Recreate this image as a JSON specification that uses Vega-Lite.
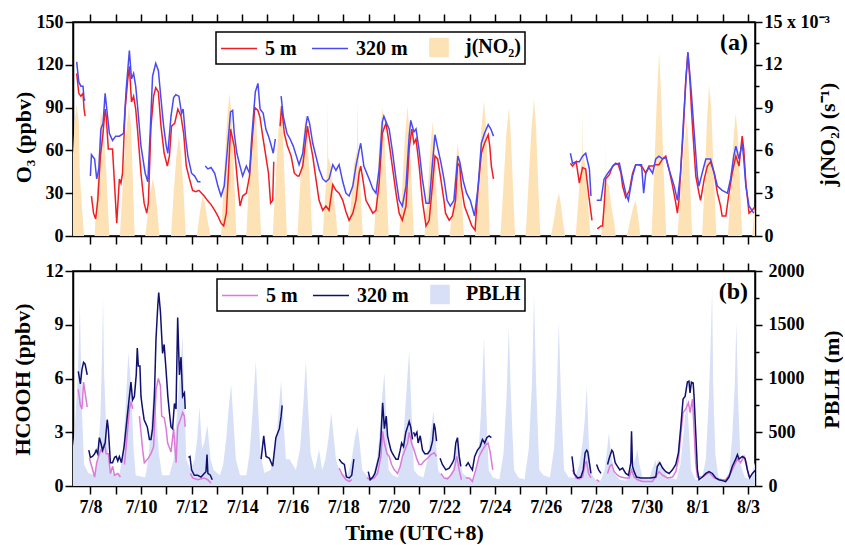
{
"$schema": "https://vega.github.io/schema/vega-lite/v6.json",
"background": "white",
"padding": {"left": 10, "top": 12, "right": 0, "bottom": 0},
"spacing": 15,
"config": {
  "font": "Liberation Serif",
  "view": {"stroke": "black", "strokeWidth": 1.5},
  "axis": {"domainColor": "black", "domainWidth": 1.5, "tickColor": "black", "tickWidth": 1.5, "labelFontWeight": "bold", "labelFontSize": 18, "labelColor": "black", "titleFontWeight": "bold", "titleFontSize": 22, "titleColor": "black", "grid": false, "labelFlush": false, "labelOverlap": false},
  "legend": {"labelFontSize": 20, "labelFontWeight": "bold", "labelColor": "black", "strokeColor": "black", "padding": 4, "symbolSize": 400, "symbolStrokeWidth": 1.5, "columnPadding": 12, "labelOffset": 15, "symbolOffset": 8, "orient": "none", "direction": "horizontal"}
},
"resolve": {"scale": {"color": "independent"}},
"datasets": {
"jno2": [
{"t":"2019-07-07T05:00","v":0},{"t":"2019-07-07T07:00","v":5.0},{"t":"2019-07-07T09:00","v":8.0},{"t":"2019-07-07T11:00","v":9.2},{"t":"2019-07-07T13:00","v":8.0},{"t":"2019-07-07T14:00","v":4.3},{"t":"2019-07-07T16:00","v":2.0},{"t":"2019-07-07T18:00","v":0},
{"t":"2019-07-08T04:00","v":0},{"t":"2019-07-08T06:30","v":3.5},{"t":"2019-07-08T08:30","v":7.0},{"t":"2019-07-08T10:00","v":8.8},{"t":"2019-07-08T12:30","v":7.5},{"t":"2019-07-08T15:00","v":4.5},{"t":"2019-07-08T18:00","v":0},
{"t":"2019-07-09T04:00","v":0},{"t":"2019-07-09T07:00","v":4.0},{"t":"2019-07-09T09:30","v":7.0},{"t":"2019-07-09T12:30","v":9.0},{"t":"2019-07-09T14:30","v":7.8},{"t":"2019-07-09T16:30","v":3.5},{"t":"2019-07-09T18:00","v":0},
{"t":"2019-07-10T04:00","v":0},{"t":"2019-07-10T07:00","v":1.8},{"t":"2019-07-10T09:30","v":3.3},{"t":"2019-07-10T11:00","v":4.0},{"t":"2019-07-10T13:00","v":3.4},{"t":"2019-07-10T15:30","v":1.8},{"t":"2019-07-10T17:30","v":0},
{"t":"2019-07-11T04:30","v":0},{"t":"2019-07-11T07:00","v":3.0},{"t":"2019-07-11T09:30","v":5.5},{"t":"2019-07-11T12:00","v":7.0},{"t":"2019-07-11T14:00","v":5.8},{"t":"2019-07-11T16:30","v":3.0},{"t":"2019-07-11T18:30","v":0},
{"t":"2019-07-12T05:00","v":0},{"t":"2019-07-12T08:00","v":1.7},{"t":"2019-07-12T10:30","v":2.8},{"t":"2019-07-12T12:30","v":2.3},{"t":"2019-07-12T15:00","v":1.2},{"t":"2019-07-12T18:00","v":0},
{"t":"2019-07-13T04:00","v":0},{"t":"2019-07-13T07:00","v":4.5},{"t":"2019-07-13T09:30","v":8.0},{"t":"2019-07-13T12:00","v":10.0},{"t":"2019-07-13T14:00","v":8.5},{"t":"2019-07-13T16:30","v":4.0},{"t":"2019-07-13T18:30","v":0},
{"t":"2019-07-14T04:00","v":0},{"t":"2019-07-14T06:30","v":4.0},{"t":"2019-07-14T09:00","v":7.5},{"t":"2019-07-14T11:00","v":9.3},{"t":"2019-07-14T13:30","v":8.0},{"t":"2019-07-14T16:00","v":3.5},{"t":"2019-07-14T18:00","v":0},
{"t":"2019-07-15T05:00","v":0},{"t":"2019-07-15T07:30","v":3.5},{"t":"2019-07-15T10:00","v":7.0},{"t":"2019-07-15T12:30","v":9.2},{"t":"2019-07-15T14:30","v":7.5},{"t":"2019-07-15T16:30","v":3.5},{"t":"2019-07-15T18:30","v":0},
{"t":"2019-07-16T04:30","v":0},{"t":"2019-07-16T07:00","v":3.5},{"t":"2019-07-16T09:30","v":6.5},{"t":"2019-07-16T12:00","v":8.5},{"t":"2019-07-16T14:00","v":7.0},{"t":"2019-07-16T16:30","v":3.5},{"t":"2019-07-16T18:30","v":0},
{"t":"2019-07-17T04:30","v":0},{"t":"2019-07-17T07:00","v":3.0},{"t":"2019-07-17T08:45","v":5.0},{"t":"2019-07-17T09:10","v":9.6},{"t":"2019-07-17T09:40","v":5.5},{"t":"2019-07-17T12:00","v":5.0},{"t":"2019-07-17T14:30","v":3.0},{"t":"2019-07-17T17:00","v":1.5},{"t":"2019-07-17T18:30","v":0},
{"t":"2019-07-18T04:30","v":0},{"t":"2019-07-18T07:30","v":2.5},{"t":"2019-07-18T10:00","v":5.0},{"t":"2019-07-18T13:00","v":6.0},{"t":"2019-07-18T13:35","v":9.6},{"t":"2019-07-18T14:10","v":6.0},{"t":"2019-07-18T16:30","v":3.0},{"t":"2019-07-18T18:30","v":0},
{"t":"2019-07-19T05:00","v":0},{"t":"2019-07-19T08:00","v":3.5},{"t":"2019-07-19T10:30","v":7.0},{"t":"2019-07-19T13:15","v":9.0},{"t":"2019-07-19T15:00","v":7.0},{"t":"2019-07-19T17:00","v":3.5},{"t":"2019-07-19T19:00","v":0},
{"t":"2019-07-20T05:00","v":0},{"t":"2019-07-20T08:00","v":3.5},{"t":"2019-07-20T10:30","v":7.0},{"t":"2019-07-20T13:00","v":9.1},{"t":"2019-07-20T15:00","v":7.0},{"t":"2019-07-20T17:00","v":3.5},{"t":"2019-07-20T19:00","v":0},
{"t":"2019-07-21T05:00","v":0},{"t":"2019-07-21T08:00","v":3.0},{"t":"2019-07-21T10:30","v":6.0},{"t":"2019-07-21T12:40","v":8.0},{"t":"2019-07-21T14:30","v":6.5},{"t":"2019-07-21T16:30","v":3.0},{"t":"2019-07-21T18:30","v":0},
{"t":"2019-07-22T05:00","v":0},{"t":"2019-07-22T08:00","v":2.5},{"t":"2019-07-22T10:30","v":5.0},{"t":"2019-07-22T12:30","v":6.5},{"t":"2019-07-22T14:30","v":5.3},{"t":"2019-07-22T16:30","v":2.5},{"t":"2019-07-22T18:30","v":0},
{"t":"2019-07-23T05:00","v":0},{"t":"2019-07-23T08:00","v":3.5},{"t":"2019-07-23T11:00","v":7.5},{"t":"2019-07-23T13:30","v":9.5},{"t":"2019-07-23T15:30","v":7.5},{"t":"2019-07-23T17:30","v":3.5},{"t":"2019-07-23T19:00","v":0},
{"t":"2019-07-24T05:00","v":0},{"t":"2019-07-24T08:00","v":3.5},{"t":"2019-07-24T10:30","v":7.0},{"t":"2019-07-24T13:15","v":9.0},{"t":"2019-07-24T15:00","v":7.0},{"t":"2019-07-24T17:00","v":3.5},{"t":"2019-07-24T19:00","v":0},
{"t":"2019-07-25T05:00","v":0},{"t":"2019-07-25T08:00","v":4.0},{"t":"2019-07-25T10:30","v":7.5},{"t":"2019-07-25T13:00","v":9.6},{"t":"2019-07-25T15:00","v":7.5},{"t":"2019-07-25T17:00","v":3.5},{"t":"2019-07-25T19:00","v":0},
{"t":"2019-07-26T05:00","v":0},{"t":"2019-07-26T08:00","v":1.2},{"t":"2019-07-26T10:30","v":2.4},{"t":"2019-07-26T12:40","v":3.0},{"t":"2019-07-26T14:30","v":2.2},{"t":"2019-07-26T16:30","v":1.0},{"t":"2019-07-26T18:30","v":0},
{"t":"2019-07-27T04:30","v":0},{"t":"2019-07-27T07:00","v":2.5},{"t":"2019-07-27T09:30","v":5.0},{"t":"2019-07-27T10:40","v":5.5},{"t":"2019-07-27T11:00","v":9.0},{"t":"2019-07-27T11:20","v":6.0},{"t":"2019-07-27T13:30","v":5.0},{"t":"2019-07-27T16:00","v":2.5},{"t":"2019-07-27T18:30","v":0},
{"t":"2019-07-28T04:30","v":0},{"t":"2019-07-28T07:00","v":2.0},{"t":"2019-07-28T08:50","v":3.5},{"t":"2019-07-28T09:10","v":6.6},{"t":"2019-07-28T09:30","v":3.8},{"t":"2019-07-28T12:00","v":3.5},{"t":"2019-07-28T14:30","v":2.0},{"t":"2019-07-28T17:00","v":1.0},{"t":"2019-07-28T18:30","v":0},
{"t":"2019-07-29T05:00","v":0},{"t":"2019-07-29T08:00","v":1.0},{"t":"2019-07-29T11:00","v":2.0},{"t":"2019-07-29T13:30","v":2.5},{"t":"2019-07-29T15:30","v":1.5},{"t":"2019-07-29T18:00","v":0},
{"t":"2019-07-30T04:30","v":0},{"t":"2019-07-30T07:00","v":4.5},{"t":"2019-07-30T09:30","v":9.5},{"t":"2019-07-30T11:40","v":12.9},{"t":"2019-07-30T13:30","v":10.0},{"t":"2019-07-30T16:00","v":4.5},{"t":"2019-07-30T18:30","v":0},
{"t":"2019-07-31T05:00","v":0},{"t":"2019-07-31T08:00","v":3.0},{"t":"2019-07-31T11:00","v":6.0},{"t":"2019-07-31T14:00","v":8.1},{"t":"2019-07-31T15:30","v":6.5},{"t":"2019-07-31T17:30","v":3.0},{"t":"2019-07-31T19:00","v":0},
{"t":"2019-08-01T04:30","v":0},{"t":"2019-08-01T07:00","v":4.0},{"t":"2019-08-01T09:00","v":8.0},{"t":"2019-08-01T11:00","v":10.6},{"t":"2019-08-01T13:00","v":9.0},{"t":"2019-08-01T15:30","v":4.5},{"t":"2019-08-01T18:00","v":0},
{"t":"2019-08-02T05:00","v":0},{"t":"2019-08-02T07:30","v":3.5},{"t":"2019-08-02T10:00","v":6.5},{"t":"2019-08-02T12:20","v":8.6},{"t":"2019-08-02T14:30","v":7.0},{"t":"2019-08-02T16:30","v":3.5},{"t":"2019-08-02T18:30","v":0},
{"t":"2019-08-03T04:00","v":0},{"t":"2019-08-03T06:00","v":1.8},{"t":"2019-08-03T08:00","v":2.4}
],
"o3_5": [
{"t":"2019-07-07T11:00","v":114},{"t":"2019-07-07T13:00","v":100},{"t":"2019-07-07T15:00","v":98},{"t":"2019-07-07T17:00","v":100},{"t":"2019-07-07T18:00","v":89},{"t":"2019-07-07T19:00","v":84},{"t":"2019-07-07T22:00","v":null},
{"t":"2019-07-08T01:00","v":28},{"t":"2019-07-08T03:00","v":16},{"t":"2019-07-08T05:00","v":12},{"t":"2019-07-08T07:00","v":25},{"t":"2019-07-08T09:30","v":56},{"t":"2019-07-08T12:00","v":72},{"t":"2019-07-08T14:00","v":89},{"t":"2019-07-08T15:00","v":84},{"t":"2019-07-08T17:00","v":61},{"t":"2019-07-08T21:00","v":61},
{"t":"2019-07-09T01:00","v":9},{"t":"2019-07-09T03:30","v":40},{"t":"2019-07-09T05:00","v":37},{"t":"2019-07-09T06:30","v":44},{"t":"2019-07-09T09:00","v":89},{"t":"2019-07-09T11:30","v":110},{"t":"2019-07-09T13:00","v":119},{"t":"2019-07-09T15:00","v":94},{"t":"2019-07-09T17:00","v":98},{"t":"2019-07-09T19:00","v":89},{"t":"2019-07-09T21:00","v":72},
{"t":"2019-07-10T00:00","v":44},{"t":"2019-07-10T03:00","v":23},{"t":"2019-07-10T05:30","v":16},{"t":"2019-07-10T07:00","v":23},{"t":"2019-07-10T09:30","v":77},{"t":"2019-07-10T12:00","v":98},{"t":"2019-07-10T14:00","v":104},{"t":"2019-07-10T16:30","v":101},{"t":"2019-07-10T19:00","v":77},{"t":"2019-07-10T22:00","v":58},
{"t":"2019-07-11T01:00","v":49},{"t":"2019-07-11T03:00","v":56},{"t":"2019-07-11T05:00","v":77},{"t":"2019-07-11T08:00","v":79},{"t":"2019-07-11T11:00","v":89},{"t":"2019-07-11T14:00","v":84},{"t":"2019-07-11T16:30","v":72},{"t":"2019-07-11T19:00","v":49},{"t":"2019-07-11T22:00","v":40},
{"t":"2019-07-12T01:00","v":32},{"t":"2019-07-12T04:00","v":31},{"t":"2019-07-12T07:00","v":32},{"t":"2019-07-12T12:00","v":28},{"t":"2019-07-12T15:00","v":25},{"t":"2019-07-12T18:30","v":22},{"t":"2019-07-12T22:00","v":18},
{"t":"2019-07-13T01:00","v":14},{"t":"2019-07-13T04:00","v":9},{"t":"2019-07-13T06:30","v":7},{"t":"2019-07-13T09:00","v":16},{"t":"2019-07-13T11:00","v":44},{"t":"2019-07-13T13:00","v":75},{"t":"2019-07-13T15:00","v":68},{"t":"2019-07-13T16:30","v":63},{"t":"2019-07-13T20:00","v":35},{"t":"2019-07-13T22:00","v":21},
{"t":"2019-07-14T00:30","v":28},{"t":"2019-07-14T04:00","v":30},{"t":"2019-07-14T07:00","v":42},{"t":"2019-07-14T10:00","v":72},{"t":"2019-07-14T12:00","v":90},{"t":"2019-07-14T15:00","v":88},{"t":"2019-07-14T17:00","v":83},{"t":"2019-07-14T19:30","v":70},{"t":"2019-07-14T22:30","v":56},
{"t":"2019-07-15T01:00","v":44},{"t":"2019-07-15T03:00","v":23},{"t":"2019-07-15T05:00","v":25},{"t":"2019-07-15T06:00","v":52},{"t":"2019-07-15T09:00","v":null},{"t":"2019-07-15T12:00","v":77},{"t":"2019-07-15T13:30","v":91},{"t":"2019-07-15T16:00","v":72},{"t":"2019-07-15T19:00","v":63},{"t":"2019-07-15T22:30","v":56},
{"t":"2019-07-16T01:30","v":44},{"t":"2019-07-16T04:30","v":42},{"t":"2019-07-16T06:00","v":42},{"t":"2019-07-16T09:30","v":49},{"t":"2019-07-16T12:30","v":68},{"t":"2019-07-16T14:00","v":77},{"t":"2019-07-16T16:00","v":68},{"t":"2019-07-16T19:00","v":56},{"t":"2019-07-16T22:00","v":40},
{"t":"2019-07-17T01:00","v":25},{"t":"2019-07-17T04:30","v":18},{"t":"2019-07-17T07:30","v":21},{"t":"2019-07-17T10:30","v":18},{"t":"2019-07-17T14:00","v":36},{"t":"2019-07-17T17:00","v":32},{"t":"2019-07-17T20:00","v":30},{"t":"2019-07-17T23:30","v":25},
{"t":"2019-07-18T02:30","v":17},{"t":"2019-07-18T05:30","v":11},{"t":"2019-07-18T09:00","v":16},{"t":"2019-07-18T12:00","v":25},{"t":"2019-07-18T15:00","v":44},{"t":"2019-07-18T16:30","v":49},{"t":"2019-07-18T18:30","v":40},{"t":"2019-07-18T21:30","v":25},
{"t":"2019-07-19T00:30","v":21},{"t":"2019-07-19T04:00","v":16},{"t":"2019-07-19T07:00","v":18},{"t":"2019-07-19T10:00","v":37},{"t":"2019-07-19T13:00","v":72},{"t":"2019-07-19T16:30","v":79},{"t":"2019-07-19T19:30","v":65},{"t":"2019-07-19T22:30","v":49},
{"t":"2019-07-20T02:00","v":30},{"t":"2019-07-20T05:00","v":16},{"t":"2019-07-20T08:00","v":11},{"t":"2019-07-20T11:30","v":21},{"t":"2019-07-20T14:30","v":61},{"t":"2019-07-20T17:00","v":75},{"t":"2019-07-20T19:00","v":65},{"t":"2019-07-20T21:00","v":68},
{"t":"2019-07-21T00:00","v":49},{"t":"2019-07-21T03:00","v":25},{"t":"2019-07-21T06:30","v":7},{"t":"2019-07-21T09:30","v":11},{"t":"2019-07-21T12:30","v":35},{"t":"2019-07-21T15:00","v":56},{"t":"2019-07-21T17:30","v":54},{"t":"2019-07-21T20:30","v":40},{"t":"2019-07-21T23:30","v":25},
{"t":"2019-07-22T01:00","v":16},{"t":"2019-07-22T04:30","v":11},{"t":"2019-07-22T07:30","v":14},{"t":"2019-07-22T10:30","v":25},{"t":"2019-07-22T12:30","v":51},{"t":"2019-07-22T14:30","v":49},{"t":"2019-07-22T16:00","v":35},{"t":"2019-07-22T19:00","v":21},{"t":"2019-07-22T22:30","v":14},
{"t":"2019-07-23T02:00","v":7},{"t":"2019-07-23T05:00","v":4},{"t":"2019-07-23T08:00","v":35},{"t":"2019-07-23T11:00","v":58},{"t":"2019-07-23T14:00","v":65},{"t":"2019-07-23T17:30","v":71},{"t":"2019-07-23T19:00","v":63},{"t":"2019-07-23T20:30","v":49},{"t":"2019-07-23T22:30","v":40},{"t":"2019-07-24T03:00","v":null},
{"t":"2019-07-26T23:30","v":51},{"t":"2019-07-27T01:30","v":49},{"t":"2019-07-27T05:00","v":52},{"t":"2019-07-27T08:00","v":37},{"t":"2019-07-27T11:00","v":48},{"t":"2019-07-27T14:00","v":47},{"t":"2019-07-27T17:30","v":25},{"t":"2019-07-27T20:00","v":11},{"t":"2019-07-27T22:30","v":null},
{"t":"2019-07-28T01:00","v":5},{"t":"2019-07-28T04:30","v":7},{"t":"2019-07-28T06:00","v":7},{"t":"2019-07-28T07:30","v":21},{"t":"2019-07-28T09:00","v":40},{"t":"2019-07-28T12:30","v":43},{"t":"2019-07-28T15:30","v":49},{"t":"2019-07-28T18:30","v":51},{"t":"2019-07-28T21:00","v":50},{"t":"2019-07-28T23:30","v":44},
{"t":"2019-07-29T01:00","v":35},{"t":"2019-07-29T04:00","v":27},{"t":"2019-07-29T07:30","v":32},{"t":"2019-07-29T10:30","v":44},{"t":"2019-07-29T13:30","v":50},{"t":"2019-07-29T16:30","v":50},{"t":"2019-07-29T20:00","v":48},{"t":"2019-07-29T23:00","v":44},
{"t":"2019-07-30T02:00","v":49},{"t":"2019-07-30T05:30","v":49},{"t":"2019-07-30T08:30","v":50},{"t":"2019-07-30T11:30","v":50},{"t":"2019-07-30T15:00","v":54},{"t":"2019-07-30T18:00","v":56},{"t":"2019-07-30T21:00","v":47},
{"t":"2019-07-31T00:30","v":35},{"t":"2019-07-31T03:30","v":23},{"t":"2019-07-31T05:00","v":16},{"t":"2019-07-31T06:30","v":25},{"t":"2019-07-31T08:00","v":44},{"t":"2019-07-31T10:30","v":72},{"t":"2019-07-31T13:00","v":110},{"t":"2019-07-31T15:00","v":128},{"t":"2019-07-31T17:00","v":108},{"t":"2019-07-31T18:30","v":87},{"t":"2019-07-31T21:00","v":58},{"t":"2019-07-31T22:30","v":42},
{"t":"2019-08-01T01:30","v":30},{"t":"2019-08-01T03:00","v":25},{"t":"2019-08-01T06:30","v":40},{"t":"2019-08-01T09:30","v":49},{"t":"2019-08-01T12:30","v":52},{"t":"2019-08-01T16:00","v":44},{"t":"2019-08-01T19:00","v":30},{"t":"2019-08-01T22:00","v":21},{"t":"2019-08-01T23:30","v":14},
{"t":"2019-08-02T03:00","v":14},{"t":"2019-08-02T06:00","v":30},{"t":"2019-08-02T09:00","v":44},{"t":"2019-08-02T12:30","v":56},{"t":"2019-08-02T15:30","v":49},{"t":"2019-08-02T18:30","v":70},{"t":"2019-08-02T20:00","v":61},{"t":"2019-08-02T22:00","v":37},
{"t":"2019-08-03T01:00","v":16},{"t":"2019-08-03T04:00","v":18},{"t":"2019-08-03T06:00","v":20}
],
"o3_320": [
{"t":"2019-07-07T11:00","v":122},{"t":"2019-07-07T13:00","v":108},{"t":"2019-07-07T15:00","v":105},{"t":"2019-07-07T17:00","v":105},{"t":"2019-07-07T18:00","v":96},{"t":"2019-07-07T19:00","v":95},{"t":"2019-07-07T22:00","v":null},
{"t":"2019-07-08T00:00","v":42},{"t":"2019-07-08T01:00","v":57},{"t":"2019-07-08T04:00","v":54},{"t":"2019-07-08T06:00","v":40},{"t":"2019-07-08T08:00","v":47},{"t":"2019-07-08T10:00","v":75},{"t":"2019-07-08T12:00","v":79},{"t":"2019-07-08T14:00","v":100},{"t":"2019-07-08T16:00","v":86},{"t":"2019-07-08T18:00","v":72},{"t":"2019-07-08T21:00","v":67},
{"t":"2019-07-09T00:00","v":70},{"t":"2019-07-09T03:30","v":70},{"t":"2019-07-09T07:30","v":72},{"t":"2019-07-09T10:00","v":103},{"t":"2019-07-09T13:00","v":130},{"t":"2019-07-09T15:00","v":110},{"t":"2019-07-09T17:00","v":114},{"t":"2019-07-09T19:00","v":105},{"t":"2019-07-09T21:00","v":89},
{"t":"2019-07-10T00:00","v":63},{"t":"2019-07-10T04:00","v":44},{"t":"2019-07-10T06:30","v":38},{"t":"2019-07-10T09:00","v":77},{"t":"2019-07-10T11:00","v":112},{"t":"2019-07-10T14:00","v":121},{"t":"2019-07-10T16:30","v":116},{"t":"2019-07-10T19:00","v":96},{"t":"2019-07-10T21:30","v":77},
{"t":"2019-07-11T00:00","v":63},{"t":"2019-07-11T01:30","v":58},{"t":"2019-07-11T04:30","v":84},{"t":"2019-07-11T07:00","v":97},{"t":"2019-07-11T09:00","v":99},{"t":"2019-07-11T12:00","v":98},{"t":"2019-07-11T14:30","v":86},{"t":"2019-07-11T16:00","v":89},{"t":"2019-07-11T18:30","v":68},{"t":"2019-07-11T20:30","v":56},
{"t":"2019-07-12T00:00","v":44},{"t":"2019-07-12T03:00","v":42},{"t":"2019-07-12T06:00","v":38},{"t":"2019-07-12T08:30","v":38},{"t":"2019-07-12T10:00","v":null},{"t":"2019-07-12T13:00","v":49},{"t":"2019-07-12T15:30","v":47},{"t":"2019-07-12T18:30","v":48},{"t":"2019-07-12T22:00","v":44},
{"t":"2019-07-13T01:00","v":35},{"t":"2019-07-13T04:00","v":28},{"t":"2019-07-13T07:00","v":35},{"t":"2019-07-13T10:00","v":61},{"t":"2019-07-13T13:00","v":87},{"t":"2019-07-13T15:00","v":88},{"t":"2019-07-13T16:30","v":72},{"t":"2019-07-13T19:00","v":58},{"t":"2019-07-13T22:00","v":49},
{"t":"2019-07-14T00:30","v":42},{"t":"2019-07-14T04:00","v":49},{"t":"2019-07-14T07:00","v":44},{"t":"2019-07-14T09:00","v":68},{"t":"2019-07-14T12:30","v":101},{"t":"2019-07-14T15:00","v":107},{"t":"2019-07-14T17:00","v":89},{"t":"2019-07-14T20:00","v":86},{"t":"2019-07-14T22:30","v":75},
{"t":"2019-07-15T01:00","v":70},{"t":"2019-07-15T03:00","v":65},{"t":"2019-07-15T05:30","v":58},{"t":"2019-07-15T07:30","v":68},{"t":"2019-07-15T09:30","v":null},{"t":"2019-07-15T13:00","v":98},{"t":"2019-07-15T15:00","v":84},{"t":"2019-07-15T18:30","v":72},{"t":"2019-07-15T21:30","v":68},
{"t":"2019-07-16T00:30","v":63},{"t":"2019-07-16T03:30","v":56},{"t":"2019-07-16T06:00","v":50},{"t":"2019-07-16T09:30","v":58},{"t":"2019-07-16T12:30","v":77},{"t":"2019-07-16T14:00","v":84},{"t":"2019-07-16T16:00","v":79},{"t":"2019-07-16T19:00","v":65},{"t":"2019-07-16T22:00","v":56},
{"t":"2019-07-17T01:00","v":47},{"t":"2019-07-17T04:30","v":40},{"t":"2019-07-17T07:30","v":38},{"t":"2019-07-17T10:30","v":40},{"t":"2019-07-17T14:00","v":50},{"t":"2019-07-17T17:00","v":46},{"t":"2019-07-17T20:00","v":50},{"t":"2019-07-17T23:30","v":38},
{"t":"2019-07-18T02:30","v":30},{"t":"2019-07-18T05:30","v":28},{"t":"2019-07-18T09:00","v":35},{"t":"2019-07-18T12:00","v":49},{"t":"2019-07-18T15:00","v":60},{"t":"2019-07-18T16:30","v":65},{"t":"2019-07-18T19:30","v":49},
{"t":"2019-07-19T00:30","v":40},{"t":"2019-07-19T04:00","v":33},{"t":"2019-07-19T07:00","v":30},{"t":"2019-07-19T10:00","v":47},{"t":"2019-07-19T13:00","v":80},{"t":"2019-07-19T14:30","v":84},{"t":"2019-07-19T16:30","v":80},{"t":"2019-07-19T19:30","v":75},{"t":"2019-07-19T22:30","v":60},
{"t":"2019-07-20T02:00","v":40},{"t":"2019-07-20T05:00","v":25},{"t":"2019-07-20T08:00","v":21},{"t":"2019-07-20T11:30","v":35},{"t":"2019-07-20T14:30","v":70},{"t":"2019-07-20T16:00","v":81},{"t":"2019-07-20T19:00","v":73},{"t":"2019-07-20T21:00","v":75},
{"t":"2019-07-21T00:00","v":60},{"t":"2019-07-21T03:00","v":40},{"t":"2019-07-21T06:30","v":23},{"t":"2019-07-21T09:30","v":23},{"t":"2019-07-21T12:30","v":50},{"t":"2019-07-21T15:00","v":71},{"t":"2019-07-21T17:30","v":62},{"t":"2019-07-21T20:30","v":52},{"t":"2019-07-21T23:30","v":40},
{"t":"2019-07-22T02:30","v":25},{"t":"2019-07-22T05:30","v":21},{"t":"2019-07-22T09:00","v":25},{"t":"2019-07-22T12:40","v":56},{"t":"2019-07-22T14:30","v":52},{"t":"2019-07-22T18:00","v":38},{"t":"2019-07-22T21:00","v":30},
{"t":"2019-07-23T00:30","v":25},{"t":"2019-07-23T04:30","v":14},{"t":"2019-07-23T08:00","v":35},{"t":"2019-07-23T11:00","v":65},{"t":"2019-07-23T14:00","v":72},{"t":"2019-07-23T17:30","v":78},{"t":"2019-07-23T20:00","v":75},{"t":"2019-07-23T22:30","v":70},{"t":"2019-07-24T03:00","v":null},
{"t":"2019-07-26T23:30","v":58},{"t":"2019-07-27T01:30","v":51},{"t":"2019-07-27T05:00","v":52},{"t":"2019-07-27T08:00","v":52},{"t":"2019-07-27T11:00","v":56},{"t":"2019-07-27T14:00","v":58},{"t":"2019-07-27T17:30","v":47},{"t":"2019-07-27T19:00","v":28},{"t":"2019-07-27T21:00","v":null},
{"t":"2019-07-28T00:30","v":25},{"t":"2019-07-28T04:30","v":25},{"t":"2019-07-28T07:30","v":40},{"t":"2019-07-28T11:00","v":44},{"t":"2019-07-28T14:00","v":47},{"t":"2019-07-28T17:00","v":50},{"t":"2019-07-28T22:00","v":51},
{"t":"2019-07-29T01:00","v":40},{"t":"2019-07-29T04:00","v":30},{"t":"2019-07-29T06:30","v":25},{"t":"2019-07-29T10:30","v":42},{"t":"2019-07-29T13:30","v":50},{"t":"2019-07-29T16:30","v":50},{"t":"2019-07-29T19:00","v":50},{"t":"2019-07-29T21:00","v":30},{"t":"2019-07-29T23:00","v":44},
{"t":"2019-07-30T02:00","v":48},{"t":"2019-07-30T05:30","v":44},{"t":"2019-07-30T08:30","v":54},{"t":"2019-07-30T11:30","v":56},{"t":"2019-07-30T15:00","v":54},{"t":"2019-07-30T18:00","v":55},{"t":"2019-07-30T21:00","v":47},
{"t":"2019-07-31T02:00","v":35},{"t":"2019-07-31T05:00","v":25},{"t":"2019-07-31T08:00","v":44},{"t":"2019-07-31T10:30","v":77},{"t":"2019-07-31T13:00","v":108},{"t":"2019-07-31T15:00","v":129},{"t":"2019-07-31T17:00","v":112},{"t":"2019-07-31T18:30","v":98},{"t":"2019-07-31T21:00","v":72},
{"t":"2019-08-01T00:00","v":42},{"t":"2019-08-01T01:30","v":35},{"t":"2019-08-01T04:30","v":44},{"t":"2019-08-01T08:00","v":54},{"t":"2019-08-01T12:30","v":54},{"t":"2019-08-01T16:00","v":44},{"t":"2019-08-01T19:00","v":35},{"t":"2019-08-01T23:30","v":32},
{"t":"2019-08-02T04:30","v":30},{"t":"2019-08-02T07:30","v":40},{"t":"2019-08-02T10:30","v":56},{"t":"2019-08-02T12:30","v":63},{"t":"2019-08-02T15:30","v":54},{"t":"2019-08-02T18:30","v":65},{"t":"2019-08-02T20:00","v":54},{"t":"2019-08-02T22:00","v":35},
{"t":"2019-08-03T01:00","v":21},{"t":"2019-08-03T05:30","v":16}
],
"pblh": [
{"t":"2019-07-07T05:00","v":150},{"t":"2019-07-07T09:00","v":500},{"t":"2019-07-07T12:00","v":1000},{"t":"2019-07-07T14:00","v":1700},{"t":"2019-07-07T16:00","v":700},{"t":"2019-07-07T18:00","v":200},{"t":"2019-07-07T22:00","v":120},
{"t":"2019-07-08T04:00","v":100},{"t":"2019-07-08T07:00","v":250},{"t":"2019-07-08T09:30","v":650},{"t":"2019-07-08T11:00","v":1200},{"t":"2019-07-08T12:00","v":1760},{"t":"2019-07-08T13:00","v":1050},{"t":"2019-07-08T15:00","v":550},{"t":"2019-07-08T18:00","v":180},{"t":"2019-07-08T22:00","v":100},
{"t":"2019-07-09T04:00","v":120},{"t":"2019-07-09T07:00","v":350},{"t":"2019-07-09T09:30","v":750},{"t":"2019-07-09T12:00","v":1240},{"t":"2019-07-09T14:30","v":950},{"t":"2019-07-09T17:00","v":350},{"t":"2019-07-09T19:00","v":100},
{"t":"2019-07-10T04:00","v":80},{"t":"2019-07-10T07:00","v":250},{"t":"2019-07-10T09:30","v":550},{"t":"2019-07-10T12:00","v":900},{"t":"2019-07-10T14:00","v":750},{"t":"2019-07-10T17:00","v":300},{"t":"2019-07-10T20:00","v":100},
{"t":"2019-07-11T03:00","v":100},{"t":"2019-07-11T07:00","v":250},{"t":"2019-07-11T10:00","v":650},{"t":"2019-07-11T13:00","v":1050},{"t":"2019-07-11T15:30","v":1400},{"t":"2019-07-11T17:00","v":850},{"t":"2019-07-11T19:00","v":250},{"t":"2019-07-11T23:00","v":150},
{"t":"2019-07-12T03:00","v":250},{"t":"2019-07-12T05:30","v":450},{"t":"2019-07-12T07:30","v":740},{"t":"2019-07-12T10:00","v":350},{"t":"2019-07-12T12:00","v":400},{"t":"2019-07-12T15:00","v":570},{"t":"2019-07-12T18:00","v":250},{"t":"2019-07-12T21:00","v":150},
{"t":"2019-07-13T03:00","v":100},{"t":"2019-07-13T06:00","v":200},{"t":"2019-07-13T09:00","v":450},{"t":"2019-07-13T11:00","v":700},{"t":"2019-07-13T13:30","v":950},{"t":"2019-07-13T15:30","v":650},{"t":"2019-07-13T18:00","v":250},{"t":"2019-07-13T22:00","v":100},
{"t":"2019-07-14T04:00","v":100},{"t":"2019-07-14T07:00","v":300},{"t":"2019-07-14T10:00","v":700},{"t":"2019-07-14T13:00","v":1165},{"t":"2019-07-14T15:00","v":750},{"t":"2019-07-14T17:30","v":300},{"t":"2019-07-14T21:00","v":120},
{"t":"2019-07-15T03:00","v":150},{"t":"2019-07-15T06:00","v":300},{"t":"2019-07-15T09:00","v":500},{"t":"2019-07-15T11:00","v":750},{"t":"2019-07-15T13:00","v":980},{"t":"2019-07-15T15:00","v":650},{"t":"2019-07-15T17:30","v":250},{"t":"2019-07-15T21:00","v":250},
{"t":"2019-07-16T03:00","v":150},{"t":"2019-07-16T07:00","v":350},{"t":"2019-07-16T10:00","v":750},{"t":"2019-07-16T12:30","v":1165},{"t":"2019-07-16T14:30","v":750},{"t":"2019-07-16T17:00","v":300},{"t":"2019-07-16T21:00","v":150},
{"t":"2019-07-17T01:00","v":340},{"t":"2019-07-17T04:00","v":150},{"t":"2019-07-17T07:00","v":250},{"t":"2019-07-17T10:00","v":450},{"t":"2019-07-17T12:30","v":680},{"t":"2019-07-17T14:30","v":500},{"t":"2019-07-17T17:00","v":250},{"t":"2019-07-17T21:00","v":120},
{"t":"2019-07-18T04:00","v":100},{"t":"2019-07-18T08:00","v":250},{"t":"2019-07-18T11:00","v":450},{"t":"2019-07-18T13:30","v":555},{"t":"2019-07-18T15:30","v":400},{"t":"2019-07-18T18:00","v":150},{"t":"2019-07-18T22:00","v":100},
{"t":"2019-07-19T04:00","v":80},{"t":"2019-07-19T08:00","v":250},{"t":"2019-07-19T11:00","v":550},{"t":"2019-07-19T13:00","v":850},{"t":"2019-07-19T15:00","v":1055},{"t":"2019-07-19T17:00","v":550},{"t":"2019-07-19T19:00","v":150},{"t":"2019-07-19T23:00","v":100},
{"t":"2019-07-20T04:00","v":80},{"t":"2019-07-20T08:00","v":300},{"t":"2019-07-20T11:00","v":750},{"t":"2019-07-20T14:30","v":1260},{"t":"2019-07-20T16:30","v":750},{"t":"2019-07-20T19:00","v":150},{"t":"2019-07-20T23:00","v":100},
{"t":"2019-07-21T04:00","v":80},{"t":"2019-07-21T08:00","v":250},{"t":"2019-07-21T11:00","v":500},{"t":"2019-07-21T13:30","v":700},{"t":"2019-07-21T15:30","v":450},{"t":"2019-07-21T18:00","v":150},{"t":"2019-07-21T22:00","v":80},
{"t":"2019-07-22T04:00","v":80},{"t":"2019-07-22T08:00","v":150},{"t":"2019-07-22T10:00","v":280},{"t":"2019-07-22T12:00","v":400},{"t":"2019-07-22T14:00","v":320},{"t":"2019-07-22T17:00","v":120},{"t":"2019-07-22T22:00","v":80},
{"t":"2019-07-23T04:00","v":60},{"t":"2019-07-23T08:00","v":250},{"t":"2019-07-23T11:00","v":750},{"t":"2019-07-23T13:30","v":1385},{"t":"2019-07-23T15:30","v":750},{"t":"2019-07-23T18:00","v":150},{"t":"2019-07-23T22:00","v":80},
{"t":"2019-07-24T04:00","v":60},{"t":"2019-07-24T08:00","v":300},{"t":"2019-07-24T11:00","v":850},{"t":"2019-07-24T13:00","v":1480},{"t":"2019-07-24T15:00","v":850},{"t":"2019-07-24T18:00","v":150},{"t":"2019-07-24T22:00","v":80},
{"t":"2019-07-25T04:00","v":60},{"t":"2019-07-25T08:00","v":350},{"t":"2019-07-25T11:00","v":950},{"t":"2019-07-25T13:00","v":1775},{"t":"2019-07-25T15:00","v":950},{"t":"2019-07-25T18:00","v":150},{"t":"2019-07-25T22:00","v":100},
{"t":"2019-07-26T04:00","v":80},{"t":"2019-07-26T08:00","v":350},{"t":"2019-07-26T10:30","v":850},{"t":"2019-07-26T12:30","v":1525},{"t":"2019-07-26T14:30","v":850},{"t":"2019-07-26T17:30","v":150},{"t":"2019-07-26T22:00","v":80},
{"t":"2019-07-27T04:00","v":80},{"t":"2019-07-27T08:00","v":200},{"t":"2019-07-27T11:00","v":400},{"t":"2019-07-27T13:00","v":600},{"t":"2019-07-27T15:00","v":930},{"t":"2019-07-27T17:00","v":400},{"t":"2019-07-27T19:00","v":120},{"t":"2019-07-27T23:00","v":60},
{"t":"2019-07-28T04:00","v":50},{"t":"2019-07-28T08:00","v":150},{"t":"2019-07-28T10:30","v":350},{"t":"2019-07-28T12:00","v":495},{"t":"2019-07-28T14:00","v":300},{"t":"2019-07-28T17:00","v":120},{"t":"2019-07-28T22:00","v":60},
{"t":"2019-07-29T04:00","v":50},{"t":"2019-07-29T08:00","v":120},{"t":"2019-07-29T11:00","v":200},{"t":"2019-07-29T13:00","v":250},{"t":"2019-07-29T15:00","v":340},{"t":"2019-07-29T17:00","v":200},{"t":"2019-07-29T20:00","v":80},
{"t":"2019-07-30T02:00","v":60},{"t":"2019-07-30T05:00","v":150},{"t":"2019-07-30T08:30","v":245},{"t":"2019-07-30T09:30","v":180},{"t":"2019-07-30T10:30","v":250},{"t":"2019-07-30T13:00","v":200},{"t":"2019-07-30T16:00","v":150},{"t":"2019-07-30T20:00","v":80},
{"t":"2019-07-31T04:00","v":60},{"t":"2019-07-31T08:00","v":200},{"t":"2019-07-31T11:00","v":500},{"t":"2019-07-31T14:00","v":840},{"t":"2019-07-31T16:00","v":500},{"t":"2019-07-31T18:00","v":150},{"t":"2019-07-31T22:00","v":60},
{"t":"2019-08-01T04:00","v":50},{"t":"2019-08-01T08:00","v":250},{"t":"2019-08-01T11:00","v":850},{"t":"2019-08-01T12:30","v":1300},{"t":"2019-08-01T14:00","v":1840},{"t":"2019-08-01T15:00","v":950},{"t":"2019-08-01T17:00","v":300},{"t":"2019-08-01T20:00","v":80},
{"t":"2019-08-02T02:00","v":60},{"t":"2019-08-02T06:00","v":120},{"t":"2019-08-02T09:00","v":450},{"t":"2019-08-02T11:30","v":950},{"t":"2019-08-02T13:00","v":1525},{"t":"2019-08-02T14:30","v":850},{"t":"2019-08-02T17:00","v":200},{"t":"2019-08-02T21:00","v":80},
{"t":"2019-08-03T03:00","v":60},{"t":"2019-08-03T06:00","v":200},{"t":"2019-08-03T08:00","v":250}
],
"h_5": [
{"t":"2019-07-07T12:30","v":5.4},{"t":"2019-07-07T14:30","v":4.5},{"t":"2019-07-07T16:00","v":4.3},{"t":"2019-07-07T17:30","v":5.8},{"t":"2019-07-07T19:00","v":5.2},{"t":"2019-07-07T21:00","v":4.4},{"t":"2019-07-07T22:00","v":null},
{"t":"2019-07-07T23:00","v":1.55},{"t":"2019-07-08T01:15","v":1.1},{"t":"2019-07-08T04:00","v":0.5},{"t":"2019-07-08T06:00","v":1.3},{"t":"2019-07-08T08:30","v":1.8},{"t":"2019-07-08T10:00","v":2.0},{"t":"2019-07-08T11:40","v":1.9},{"t":"2019-07-08T13:20","v":2.4},{"t":"2019-07-08T15:00","v":1.8},{"t":"2019-07-08T17:00","v":1.8},{"t":"2019-07-08T19:00","v":0.7},{"t":"2019-07-08T21:10","v":1.1},{"t":"2019-07-08T22:50","v":0.6},{"t":"2019-07-09T02:00","v":0.7},{"t":"2019-07-09T04:30","v":0.5},{"t":"2019-07-09T06:00","v":null},
{"t":"2019-07-09T08:20","v":1.2},{"t":"2019-07-09T10:50","v":2.8},{"t":"2019-07-09T13:00","v":4.3},{"t":"2019-07-09T14:40","v":4.7},{"t":"2019-07-09T16:10","v":4.3},{"t":"2019-07-09T18:00","v":null},
{"t":"2019-07-09T22:30","v":3.9},{"t":"2019-07-10T00:00","v":3.0},{"t":"2019-07-10T01:40","v":2.0},{"t":"2019-07-10T03:10","v":1.3},{"t":"2019-07-10T06:20","v":1.5},{"t":"2019-07-10T09:30","v":1.8},{"t":"2019-07-10T12:00","v":2.2},{"t":"2019-07-10T14:20","v":5.4},{"t":"2019-07-10T16:30","v":6.0},{"t":"2019-07-10T18:25","v":5.6},{"t":"2019-07-10T19:40","v":3.9},{"t":"2019-07-10T22:10","v":3.8},{"t":"2019-07-10T23:50","v":3.2},
{"t":"2019-07-11T01:20","v":2.4},{"t":"2019-07-11T04:30","v":1.9},{"t":"2019-07-11T07:00","v":3.2},{"t":"2019-07-11T09:20","v":1.3},{"t":"2019-07-11T10:50","v":3.3},{"t":"2019-07-11T13:20","v":3.7},{"t":"2019-07-11T15:35","v":4.1},{"t":"2019-07-11T17:10","v":3.9},{"t":"2019-07-11T18:00","v":3.3},{"t":"2019-07-11T19:00","v":null},
{"t":"2019-07-11T22:50","v":0.7},{"t":"2019-07-12T01:00","v":0.45},{"t":"2019-07-12T05:50","v":0.35},{"t":"2019-07-12T12:00","v":0.45},{"t":"2019-07-12T15:20","v":0.35},{"t":"2019-07-12T18:30","v":0.15},{"t":"2019-07-12T20:00","v":null},
{"t":"2019-07-17T20:00","v":1.0},{"t":"2019-07-17T23:20","v":0.6},{"t":"2019-07-18T02:30","v":0.35},{"t":"2019-07-18T05:40","v":0.25},{"t":"2019-07-18T08:00","v":0.35},{"t":"2019-07-18T10:00","v":null},
{"t":"2019-07-18T22:25","v":0.45},{"t":"2019-07-19T01:35","v":0.35},{"t":"2019-07-19T05:20","v":0.45},{"t":"2019-07-19T08:30","v":0.7},{"t":"2019-07-19T11:40","v":1.65},{"t":"2019-07-19T13:20","v":3.05},{"t":"2019-07-19T15:00","v":2.4},{"t":"2019-07-19T17:25","v":1.8},{"t":"2019-07-19T19:35","v":1.65},{"t":"2019-07-19T21:50","v":1.2},
{"t":"2019-07-20T00:20","v":0.9},{"t":"2019-07-20T03:30","v":0.7},{"t":"2019-07-20T06:00","v":1.1},{"t":"2019-07-20T08:10","v":1.65},{"t":"2019-07-20T10:25","v":2.0},{"t":"2019-07-20T13:00","v":2.4},{"t":"2019-07-20T14:30","v":3.0},{"t":"2019-07-20T16:45","v":2.4},{"t":"2019-07-20T19:15","v":2.0},{"t":"2019-07-20T21:50","v":1.5},
{"t":"2019-07-21T00:00","v":1.2},{"t":"2019-07-21T02:10","v":1.2},{"t":"2019-07-21T04:45","v":1.4},{"t":"2019-07-21T07:55","v":1.55},{"t":"2019-07-21T11:05","v":1.75},{"t":"2019-07-21T14:15","v":1.85},{"t":"2019-07-21T16:25","v":1.65},{"t":"2019-07-21T18:00","v":null},
{"t":"2019-07-21T20:30","v":0.7},{"t":"2019-07-21T23:40","v":0.45},{"t":"2019-07-22T02:50","v":0.4},{"t":"2019-07-22T06:00","v":0.6},{"t":"2019-07-22T09:10","v":0.9},{"t":"2019-07-22T11:40","v":1.65},{"t":"2019-07-22T13:55","v":0.9},{"t":"2019-07-22T16:05","v":0.35},{"t":"2019-07-22T17:30","v":null},
{"t":"2019-07-22T20:10","v":0.45},{"t":"2019-07-22T23:25","v":0.45},{"t":"2019-07-23T02:30","v":0.25},{"t":"2019-07-23T05:40","v":0.9},{"t":"2019-07-23T08:50","v":1.65},{"t":"2019-07-23T12:00","v":2.0},{"t":"2019-07-23T15:10","v":2.3},{"t":"2019-07-23T17:25","v":2.4},{"t":"2019-07-23T19:20","v":1.9},{"t":"2019-07-23T21:50","v":0.9},{"t":"2019-07-23T23:00","v":null},
{"t":"2019-07-27T01:30","v":0.9},{"t":"2019-07-27T04:45","v":0.45},{"t":"2019-07-27T08:00","v":0.4},{"t":"2019-07-27T11:05","v":0.5},{"t":"2019-07-27T13:35","v":1.3},{"t":"2019-07-27T14:50","v":1.35},{"t":"2019-07-27T16:45","v":0.7},{"t":"2019-07-27T19:00","v":0.45},{"t":"2019-07-27T20:30","v":null},
{"t":"2019-07-28T00:20","v":0.35},{"t":"2019-07-28T02:50","v":0.25},{"t":"2019-07-28T05:00","v":null},
{"t":"2019-07-28T10:45","v":0.7},{"t":"2019-07-28T12:55","v":1.1},{"t":"2019-07-28T14:50","v":1.2},{"t":"2019-07-28T17:00","v":0.8},{"t":"2019-07-28T20:10","v":0.6},{"t":"2019-07-28T23:20","v":0.5},{"t":"2019-07-29T04:00","v":0.45},{"t":"2019-07-29T07:15","v":0.45},{"t":"2019-07-29T09:30","v":0.9},{"t":"2019-07-29T12:00","v":0.5},{"t":"2019-07-29T15:10","v":0.35},{"t":"2019-07-29T19:55","v":0.25},
{"t":"2019-07-30T00:40","v":0.25},{"t":"2019-07-30T05:20","v":0.25},{"t":"2019-07-30T11:40","v":0.8},{"t":"2019-07-30T14:50","v":0.6},{"t":"2019-07-30T19:35","v":0.45},
{"t":"2019-07-31T00:20","v":0.5},{"t":"2019-07-31T03:30","v":0.8},{"t":"2019-07-31T06:00","v":1.5},{"t":"2019-07-31T08:10","v":2.8},{"t":"2019-07-31T10:25","v":4.1},{"t":"2019-07-31T13:00","v":4.3},{"t":"2019-07-31T15:30","v":4.65},{"t":"2019-07-31T17:05","v":4.1},{"t":"2019-07-31T19:20","v":4.85},{"t":"2019-07-31T20:50","v":3.15},{"t":"2019-07-31T22:25","v":1.3},
{"t":"2019-08-01T00:00","v":0.5},{"t":"2019-08-01T04:45","v":0.5},{"t":"2019-08-01T11:05","v":0.75},{"t":"2019-08-01T15:50","v":0.45},{"t":"2019-08-01T20:30","v":0.35},
{"t":"2019-08-02T02:50","v":0.35},{"t":"2019-08-02T07:35","v":0.7},{"t":"2019-08-02T10:45","v":1.1},{"t":"2019-08-02T13:55","v":1.5},{"t":"2019-08-02T17:00","v":1.3},{"t":"2019-08-02T20:10","v":1.65},{"t":"2019-08-02T22:25","v":1.3},{"t":"2019-08-03T00:55","v":0.5}
],
"h_320": [
{"t":"2019-07-07T12:30","v":6.4},{"t":"2019-07-07T14:30","v":5.7},{"t":"2019-07-07T16:00","v":6.5},{"t":"2019-07-07T17:30","v":6.9},{"t":"2019-07-07T19:00","v":6.8},{"t":"2019-07-07T21:00","v":6.2},{"t":"2019-07-07T21:45","v":null},
{"t":"2019-07-07T22:30","v":2.0},{"t":"2019-07-08T00:00","v":1.6},{"t":"2019-07-08T02:00","v":1.65},{"t":"2019-07-08T04:00","v":1.8},{"t":"2019-07-08T05:30","v":2.0},{"t":"2019-07-08T07:00","v":1.8},{"t":"2019-07-08T08:30","v":2.7},{"t":"2019-07-08T10:00","v":2.4},{"t":"2019-07-08T11:30","v":2.0},{"t":"2019-07-08T14:00","v":2.4},{"t":"2019-07-08T16:00","v":3.7},{"t":"2019-07-08T17:00","v":3.2},{"t":"2019-07-08T19:00","v":1.3},{"t":"2019-07-08T21:00","v":1.3},{"t":"2019-07-08T23:00","v":1.6},
{"t":"2019-07-09T00:30","v":1.65},{"t":"2019-07-09T02:00","v":1.4},{"t":"2019-07-09T03:30","v":1.65},{"t":"2019-07-09T05:30","v":1.3},{"t":"2019-07-09T08:00","v":2.2},{"t":"2019-07-09T11:00","v":3.9},{"t":"2019-07-09T13:00","v":5.0},{"t":"2019-07-09T14:30","v":5.8},{"t":"2019-07-09T16:00","v":4.8},{"t":"2019-07-09T17:45","v":5.0},{"t":"2019-07-09T19:30","v":6.2},{"t":"2019-07-09T20:30","v":7.7},{"t":"2019-07-09T21:30","v":6.7},{"t":"2019-07-09T23:00","v":6.7},
{"t":"2019-07-10T00:00","v":5.0},{"t":"2019-07-10T01:30","v":4.3},{"t":"2019-07-10T03:00","v":3.7},{"t":"2019-07-10T06:00","v":3.3},{"t":"2019-07-10T08:00","v":2.6},{"t":"2019-07-10T09:30","v":2.6},{"t":"2019-07-10T11:00","v":3.2},{"t":"2019-07-10T12:45","v":5.0},{"t":"2019-07-10T14:15","v":8.2},{"t":"2019-07-10T16:00","v":10.1},{"t":"2019-07-10T16:50","v":10.8},{"t":"2019-07-10T18:30","v":9.7},{"t":"2019-07-10T20:30","v":7.4},{"t":"2019-07-10T22:00","v":7.9},{"t":"2019-07-10T23:45","v":6.5},
{"t":"2019-07-11T01:30","v":5.0},{"t":"2019-07-11T03:00","v":4.1},{"t":"2019-07-11T04:30","v":3.3},{"t":"2019-07-11T06:00","v":3.2},{"t":"2019-07-11T07:45","v":4.6},{"t":"2019-07-11T09:15","v":4.3},{"t":"2019-07-11T10:50","v":9.4},{"t":"2019-07-11T12:30","v":6.2},{"t":"2019-07-11T14:00","v":7.2},{"t":"2019-07-11T15:30","v":5.0},{"t":"2019-07-11T17:15","v":5.2},{"t":"2019-07-11T18:00","v":4.3},{"t":"2019-07-11T19:00","v":null},
{"t":"2019-07-11T21:00","v":1.6},{"t":"2019-07-11T22:30","v":1.65},{"t":"2019-07-12T00:00","v":0.9},{"t":"2019-07-12T02:40","v":0.6},{"t":"2019-07-12T05:50","v":0.6},{"t":"2019-07-12T09:00","v":0.5},{"t":"2019-07-12T12:00","v":0.7},{"t":"2019-07-12T13:40","v":0.8},{"t":"2019-07-12T14:40","v":1.75},{"t":"2019-07-12T15:30","v":0.7},{"t":"2019-07-12T17:50","v":0.6},{"t":"2019-07-12T19:40","v":0.35},{"t":"2019-07-12T21:00","v":null},
{"t":"2019-07-14T18:00","v":1.5},{"t":"2019-07-14T20:30","v":2.8},{"t":"2019-07-14T22:40","v":1.65},{"t":"2019-07-15T01:50","v":1.55},{"t":"2019-07-15T05:00","v":1.1},{"t":"2019-07-15T08:00","v":2.7},{"t":"2019-07-15T11:20","v":3.2},{"t":"2019-07-15T13:00","v":3.9},{"t":"2019-07-15T14:00","v":4.5},{"t":"2019-07-15T16:00","v":null},
{"t":"2019-07-17T20:00","v":1.5},{"t":"2019-07-17T22:30","v":1.3},{"t":"2019-07-18T01:00","v":1.2},{"t":"2019-07-18T03:00","v":0.5},{"t":"2019-07-18T05:40","v":0.45},{"t":"2019-07-18T08:00","v":0.6},{"t":"2019-07-18T10:00","v":1.5},{"t":"2019-07-18T12:00","v":null},
{"t":"2019-07-18T23:40","v":0.8},{"t":"2019-07-19T01:30","v":0.35},{"t":"2019-07-19T04:00","v":0.5},{"t":"2019-07-19T06:00","v":0.7},{"t":"2019-07-19T08:30","v":1.3},{"t":"2019-07-19T10:00","v":1.65},{"t":"2019-07-19T11:40","v":2.7},{"t":"2019-07-19T13:20","v":4.65},{"t":"2019-07-19T15:00","v":3.2},{"t":"2019-07-19T16:45","v":3.9},{"t":"2019-07-19T18:00","v":2.8},{"t":"2019-07-19T19:30","v":2.4},{"t":"2019-07-19T21:10","v":2.0},{"t":"2019-07-19T22:45","v":1.8},
{"t":"2019-07-20T00:20","v":1.65},{"t":"2019-07-20T02:00","v":1.5},{"t":"2019-07-20T04:00","v":1.5},{"t":"2019-07-20T06:00","v":2.0},{"t":"2019-07-20T07:20","v":2.4},{"t":"2019-07-20T09:10","v":2.2},{"t":"2019-07-20T11:20","v":3.0},{"t":"2019-07-20T13:00","v":3.3},{"t":"2019-07-20T14:30","v":3.6},{"t":"2019-07-20T16:00","v":3.3},{"t":"2019-07-20T17:40","v":2.6},{"t":"2019-07-20T18:10","v":null},
{"t":"2019-07-20T18:40","v":3.0},{"t":"2019-07-20T20:00","v":2.8},{"t":"2019-07-20T21:50","v":3.0},{"t":"2019-07-20T23:00","v":2.4},{"t":"2019-07-21T01:00","v":2.8},{"t":"2019-07-21T03:10","v":2.0},{"t":"2019-07-21T05:20","v":1.8},{"t":"2019-07-21T08:00","v":1.8},{"t":"2019-07-21T10:30","v":2.0},{"t":"2019-07-21T12:40","v":2.5},{"t":"2019-07-21T14:10","v":3.5},{"t":"2019-07-21T15:10","v":3.2},{"t":"2019-07-21T16:30","v":2.5},{"t":"2019-07-21T17:30","v":null},
{"t":"2019-07-21T19:50","v":1.55},{"t":"2019-07-21T22:00","v":1.2},{"t":"2019-07-22T01:20","v":0.9},{"t":"2019-07-22T04:30","v":1.0},{"t":"2019-07-22T07:40","v":1.3},{"t":"2019-07-22T09:10","v":1.5},{"t":"2019-07-22T10:45","v":2.4},{"t":"2019-07-22T12:20","v":2.7},{"t":"2019-07-22T14:00","v":1.65},{"t":"2019-07-22T15:30","v":1.1},{"t":"2019-07-22T17:00","v":null},
{"t":"2019-07-22T20:10","v":1.1},{"t":"2019-07-22T22:30","v":1.3},{"t":"2019-07-23T00:20","v":1.1},{"t":"2019-07-23T02:30","v":0.9},{"t":"2019-07-23T04:40","v":1.65},{"t":"2019-07-23T07:20","v":2.0},{"t":"2019-07-23T09:50","v":2.2},{"t":"2019-07-23T12:00","v":2.6},{"t":"2019-07-23T14:10","v":2.4},{"t":"2019-07-23T16:10","v":2.7},{"t":"2019-07-23T18:20","v":2.8},{"t":"2019-07-23T20:30","v":2.7},{"t":"2019-07-23T22:00","v":null},
{"t":"2019-07-27T01:00","v":1.65},{"t":"2019-07-27T03:00","v":0.7},{"t":"2019-07-27T06:20","v":0.45},{"t":"2019-07-27T09:30","v":0.5},{"t":"2019-07-27T11:40","v":0.9},{"t":"2019-07-27T13:30","v":1.85},{"t":"2019-07-27T15:00","v":2.0},{"t":"2019-07-27T16:00","v":1.9},{"t":"2019-07-27T17:30","v":1.3},{"t":"2019-07-27T19:00","v":0.7},{"t":"2019-07-27T20:00","v":null},
{"t":"2019-07-28T00:20","v":1.2},{"t":"2019-07-28T02:15","v":0.9},{"t":"2019-07-28T04:30","v":0.7},{"t":"2019-07-28T06:00","v":null},
{"t":"2019-07-28T10:45","v":1.2},{"t":"2019-07-28T12:20","v":1.55},{"t":"2019-07-28T14:50","v":2.0},{"t":"2019-07-28T16:00","v":1.9},{"t":"2019-07-28T18:00","v":1.3},{"t":"2019-07-28T20:10","v":1.1},{"t":"2019-07-28T22:25","v":0.9},{"t":"2019-07-29T01:00","v":1.0},{"t":"2019-07-29T04:00","v":0.7},{"t":"2019-07-29T06:40","v":0.6},{"t":"2019-07-29T08:50","v":1.3},{"t":"2019-07-29T09:30","v":3.05},{"t":"2019-07-29T10:25","v":1.1},{"t":"2019-07-29T12:00","v":0.8},{"t":"2019-07-29T14:10","v":0.5},{"t":"2019-07-29T18:20","v":0.45},{"t":"2019-07-29T23:00","v":0.45},
{"t":"2019-07-30T03:50","v":0.45},{"t":"2019-07-30T08:30","v":0.5},{"t":"2019-07-30T10:00","v":1.1},{"t":"2019-07-30T12:20","v":1.3},{"t":"2019-07-30T15:00","v":1.0},{"t":"2019-07-30T18:00","v":0.8},{"t":"2019-07-30T21:10","v":0.7},
{"t":"2019-07-31T00:20","v":0.9},{"t":"2019-07-31T03:30","v":1.2},{"t":"2019-07-31T06:00","v":1.85},{"t":"2019-07-31T08:10","v":3.25},{"t":"2019-07-31T10:25","v":4.85},{"t":"2019-07-31T12:20","v":5.0},{"t":"2019-07-31T14:30","v":5.8},{"t":"2019-07-31T16:00","v":5.85},{"t":"2019-07-31T17:00","v":5.2},{"t":"2019-07-31T18:20","v":5.8},{"t":"2019-07-31T20:00","v":5.75},{"t":"2019-07-31T20:50","v":5.0},{"t":"2019-07-31T22:25","v":3.0},
{"t":"2019-08-01T00:00","v":0.9},{"t":"2019-08-01T01:35","v":0.35},{"t":"2019-08-01T04:45","v":0.5},{"t":"2019-08-01T08:00","v":0.7},{"t":"2019-08-01T11:05","v":0.8},{"t":"2019-08-01T14:15","v":0.7},{"t":"2019-08-01T17:25","v":0.45},{"t":"2019-08-01T20:30","v":0.35},{"t":"2019-08-01T23:40","v":0.3},
{"t":"2019-08-02T02:50","v":0.25},{"t":"2019-08-02T06:00","v":0.5},{"t":"2019-08-02T09:10","v":1.1},{"t":"2019-08-02T12:20","v":1.5},{"t":"2019-08-02T14:00","v":1.75},{"t":"2019-08-02T15:30","v":1.5},{"t":"2019-08-02T18:40","v":1.65},{"t":"2019-08-02T21:10","v":1.55},{"t":"2019-08-02T23:25","v":0.9},
{"t":"2019-08-03T01:40","v":0.45},{"t":"2019-08-03T04:10","v":0.7},{"t":"2019-08-03T07:20","v":0.9}
]
},
"vconcat": [
{
  "width": 682, "height": 214,
  "title": {"text": "(a)", "anchor": "end", "frame": "group", "offset": -42, "dx": -7, "fontSize": 24, "fontWeight": "bold", "color": "black"},
  "layer": [
    {
      "data": {"name": "jno2"},
      "mark": {"type": "area", "clip": true},
      "encoding": {
        "x": {"field": "t", "type": "temporal", "scale": {"domain": [{"year": 2019, "month": 7, "date": 7, "hours": 7, "minutes": 30}, {"year": 2019, "month": 8, "date": 3, "hours": 6, "minutes": 40}], "nice": false},
              "axis": {"orient": "bottom", "labels": false, "title": null, "tickCount": {"interval": "day", "step": 1}, "tickSize": 8}},
        "y": {"field": "v", "type": "quantitative", "scale": {"domain": [0, 15], "nice": false, "zero": false},
              "axis": {"orient": "right", "values": [0, 1.5, 3, 4.5, 6, 7.5, 9, 10.5, 12, 13.5, 15], "labelExpr": "datum.value % 3 == 0 ? (datum.value == 15 ? '15 x 10⁻³' : datum.label) : ''", "tickSize": {"condition": {"test": "datum.value % 3 == 0", "value": 7}, "value": 4}, "labelPadding": 2, "title": "j(NO₂) (s⁻¹)", "titleAngle": 270, "titleX": 72, "titleY": 112, "titleAlign": "center", "titleBaseline": "middle"}},
        "color": {"datum": "j(NO₂)", "type": "nominal", "scale": {"domain": ["5 m", "320 m", "j(NO₂)"], "range": ["#f01e23", "#4a4af5", "#fde2b6"]},
                  "legend": {"title": null, "legendX": 143, "legendY": 10,
                    "encode": {"legend": {"update": {"strokeWidth": {"value": 1.5}}},
                      "symbols": {"update": {
                        "shape": {"signal": "datum.value == 'j(NO₂)' ? 'square' : 'M-1.8,0H1.8'"},
                        "size": {"signal": "datum.value == 'j(NO₂)' ? 330 : 400"},
                        "fill": {"signal": "datum.value == 'j(NO₂)' ? '#fde2b6' : 'transparent'"},
                        "stroke": {"signal": "datum.value == '5 m' ? '#f01e23' : (datum.value == '320 m' ? '#4a4af5' : 'transparent')"},
                        "strokeWidth": {"value": 1.5}, "opacity": {"value": 1}}}}}}
      }
    },
    {
      "layer": [
        {
          "data": {"name": "o3_5"},
          "mark": {"type": "line", "clip": true, "strokeWidth": 1.5, "invalid": "break-paths-filter-domains"},
          "encoding": {
            "x": {"field": "t", "type": "temporal", "axis": {"orient": "top", "labels": false, "title": null, "tickCount": {"interval": "day", "step": 1}, "tickSize": 8}},
            "y": {"field": "v", "type": "quantitative", "scale": {"domain": [0, 150], "nice": false, "zero": false},
                  "axis": {"orient": "left", "values": [0, 15, 30, 45, 60, 75, 90, 105, 120, 135, 150], "labelExpr": "datum.value % 30 == 0 ? datum.label : ''", "tickSize": {"condition": {"test": "datum.value % 30 == 0", "value": 8}, "value": 4}, "labelPadding": 2, "title": "O₃ (ppbv)", "titleX": -50, "titleY": 115, "titleAlign": "center", "titleBaseline": "middle", "titleAngle": 270}},
            "color": {"datum": "5 m", "type": "nominal"}
          }
        },
        {
          "data": {"name": "o3_320"},
          "mark": {"type": "line", "clip": true, "strokeWidth": 1.5, "invalid": "break-paths-filter-domains"},
          "encoding": {
            "x": {"field": "t", "type": "temporal"},
            "y": {"field": "v", "type": "quantitative"},
            "color": {"datum": "320 m", "type": "nominal"}
          }
        }
      ]
    }
  ],
  "resolve": {"scale": {"y": "independent"}, "axis": {"x": "independent"}}
},
{
  "width": 682, "height": 215,
  "title": {"text": "(b)", "anchor": "end", "frame": "group", "offset": -42, "dx": -7, "fontSize": 24, "fontWeight": "bold", "color": "black"},
  "layer": [
    {
      "data": {"name": "pblh"},
      "mark": {"type": "area", "clip": true},
      "encoding": {
        "x": {"field": "t", "type": "temporal", "scale": {"domain": [{"year": 2019, "month": 7, "date": 7, "hours": 7, "minutes": 30}, {"year": 2019, "month": 8, "date": 3, "hours": 6, "minutes": 40}], "nice": false},
              "axis": {"orient": "bottom", "title": "Time (UTC+8)", "titlePadding": 6, "tickCount": {"interval": "day", "step": 1}, "tickSize": 8, "labelPadding": 4,
                       "labelExpr": "(month(datum.value) == 6 && date(datum.value) % 2 == 0) || (month(datum.value) == 7 && date(datum.value) % 2 == 1) ? timeFormat(datum.value, '%-m/%-d') : ''"}},
        "y": {"field": "v", "type": "quantitative", "scale": {"domain": [0, 2000], "nice": false, "zero": false},
              "axis": {"orient": "right", "values": [0, 250, 500, 750, 1000, 1250, 1500, 1750, 2000], "labelExpr": "datum.value % 500 == 0 ? datum.label : ''", "format": "d", "tickSize": {"condition": {"test": "datum.value % 500 == 0", "value": 7}, "value": 4}, "labelPadding": 6, "title": "PBLH (m)", "titleAngle": 270, "titleX": 76, "titleY": 108, "titleAlign": "center", "titleBaseline": "middle"}},
        "color": {"datum": "PBLH", "type": "nominal", "scale": {"domain": ["5 m", "320 m", "PBLH"], "range": ["#dc7ad8", "#10106e", "#d8e0f8"]},
                  "legend": {"title": null, "legendX": 144, "legendY": 8,
                    "encode": {"legend": {"update": {"strokeWidth": {"value": 1.5}}},
                      "symbols": {"update": {
                        "shape": {"signal": "datum.value == 'PBLH' ? 'square' : 'M-1.8,0H1.8'"},
                        "size": {"signal": "datum.value == 'PBLH' ? 330 : 400"},
                        "fill": {"signal": "datum.value == 'PBLH' ? '#d8e0f8' : 'transparent'"},
                        "stroke": {"signal": "datum.value == '5 m' ? '#dc7ad8' : (datum.value == '320 m' ? '#10106e' : 'transparent')"},
                        "strokeWidth": {"value": 1.5}, "opacity": {"value": 1}}}}}}
      }
    },
    {
      "layer": [
        {
          "data": {"name": "h_5"},
          "mark": {"type": "line", "clip": true, "strokeWidth": 1.5, "invalid": "break-paths-filter-domains"},
          "encoding": {
            "x": {"field": "t", "type": "temporal", "axis": {"orient": "top", "labels": false, "title": null, "tickCount": {"interval": "day", "step": 1}, "tickSize": 8}},
            "y": {"field": "v", "type": "quantitative", "scale": {"domain": [0, 12], "nice": false, "zero": false},
                  "axis": {"orient": "left", "values": [0, 1.5, 3, 4.5, 6, 7.5, 9, 10.5, 12], "labelExpr": "datum.value % 3 == 0 ? datum.label : ''", "tickSize": {"condition": {"test": "datum.value % 3 == 0", "value": 8}, "value": 4}, "labelPadding": 2, "title": "HCOOH (ppbv)", "titleX": -51, "titleY": 108, "titleAlign": "center", "titleBaseline": "middle", "titleAngle": 270}},
            "color": {"datum": "5 m", "type": "nominal"}
          }
        },
        {
          "data": {"name": "h_320"},
          "mark": {"type": "line", "clip": true, "strokeWidth": 1.5, "invalid": "break-paths-filter-domains"},
          "encoding": {
            "x": {"field": "t", "type": "temporal"},
            "y": {"field": "v", "type": "quantitative"},
            "color": {"datum": "320 m", "type": "nominal"}
          }
        }
      ]
    }
  ],
  "resolve": {"scale": {"y": "independent"}, "axis": {"x": "independent"}}
}
]
}
